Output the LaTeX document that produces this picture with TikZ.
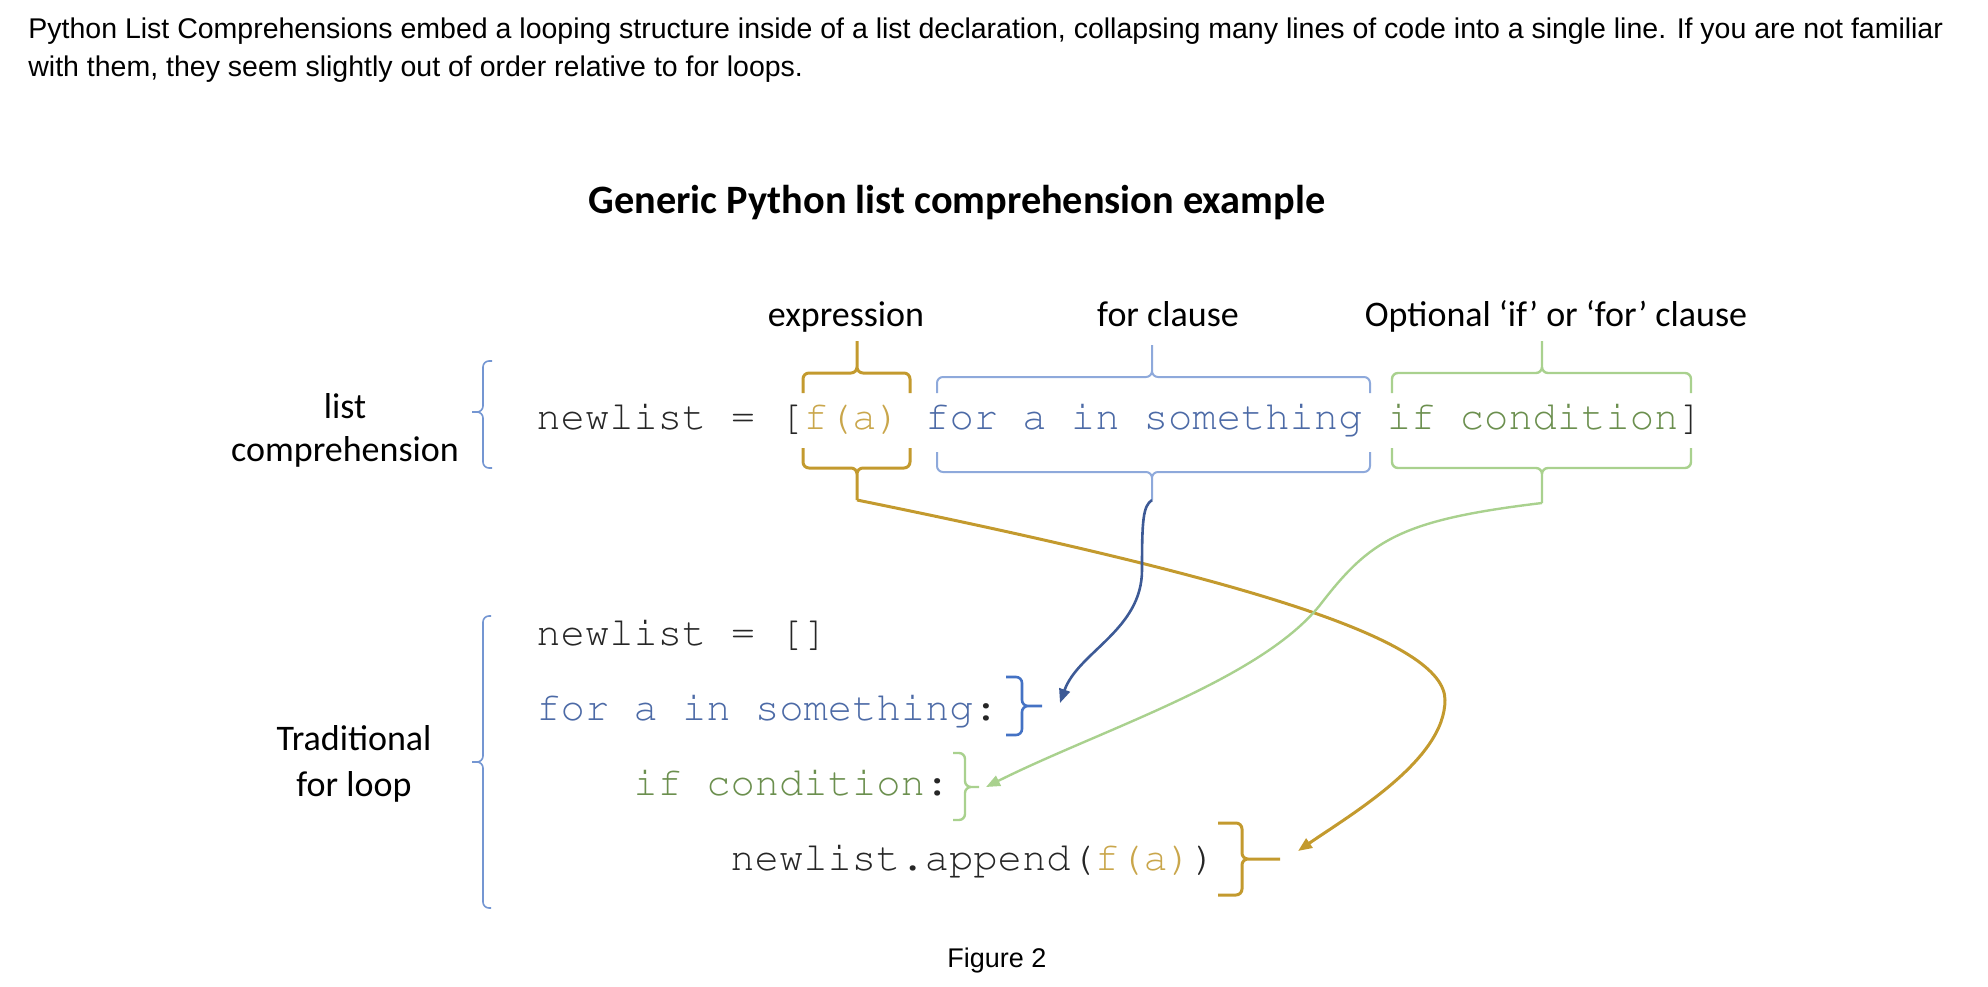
\documentclass[tikz,border=0pt]{standalone}
\usepackage{fontspec}
\usepackage{xcolor}
\usetikzlibrary{arrows.meta}
\newfontfamily\arial{Liberation Sans}
\newfontfamily\calibri{Carlito}
\newcommand{\codefont}{\fontencoding{OT1}\fontfamily{pcr}\fontseries{m}\fontshape{n}\fontsize{20.25}{24}\selectfont}
\definecolor{gold}{HTML}{C39A2E}
\definecolor{goldtext}{HTML}{C9A64B}
\definecolor{bluebrace}{HTML}{8EA9DB}
\definecolor{bluetext}{HTML}{4C6AA6}
\definecolor{blueconn}{HTML}{3D5A96}
\definecolor{bluemid}{HTML}{4472C4}
\definecolor{greenbrace}{HTML}{A9D18E}
\definecolor{greentext}{HTML}{6B8F4E}
\definecolor{leftbrace}{HTML}{7496D2}
\definecolor{codeblack}{HTML}{262626}

\begin{document}
\begin{tikzpicture}[x=0.5pt,y=-0.5pt,
  para/.style={font=\arial\fontsize{14.25}{17}\selectfont, inner sep=0pt, anchor=base west},
  lbl/.style={font=\calibri\fontsize{18}{22}\selectfont, inner sep=0pt, anchor=base},
  codeline/.style={font=\codefont, inner sep=0pt, anchor=base west, text=codeblack},
  brace/.style={line width=1pt, rounded corners=3pt},
  conn/.style={-{Triangle[length=7pt,width=5.5pt]}}]
  \useasboundingbox (0,0) rectangle (1988,986);

  \node[para] (intro1) at (28,38) {Python List Comprehensions embed a looping structure inside of a list declaration, collapsing many lines of code into a single line. If you are not familiar};
  \node[para] (intro2) at (28,76) {with them, they seem slightly out of order relative to for loops.};
  \node[font=\calibri\bfseries\fontsize{20.15}{24}\selectfont, inner sep=0pt, anchor=base] (title) at (957,213) {Generic Python list comprehension example};

  \node[lbl] (exprlbl) at (846,326) {expression};
  \node[lbl] (forlbl) at (1168,326) {for clause};
  \node[lbl] (optlbl) at (1556,326) {Optional ‘if’ or ‘for’ clause};
  \node[lbl] (lc1) at (345,418) {list};
  \node[lbl] (lc2) at (345,461) {comprehension};
  \node[lbl] (trad1) at (354,750) {Traditional};
  \node[lbl] (trad2) at (354,796) {for loop};

  % the code
  \node[codeline] (compline) at (536,429) {newlist = [\textcolor{goldtext}{f(a)} \textcolor{bluetext}{for a in something} \textcolor{greentext}{if condition}]};
  \node[codeline] (initline) at (536,645) {newlist = []};
  \node[codeline, text=bluetext] (forline) at (536,720) {for a in something\textcolor{codeblack}{:}};
  \node[codeline, text=greentext] (ifline) at (633,795) {if condition\textcolor{codeblack}{:}};
  \node[codeline] (appline) at (730,870) {newlist.append(\textcolor{goldtext}{f(a)})};
  \node[font=\arial\fontsize{13.5}{16}\selectfont, inner sep=0pt, anchor=base] (caption) at (997,967) {Figure 2};

  \coordinate (fatip) at (857,500);
  \coordinate (fortip) at (1152,500);
  \coordinate (iftip) at (1542,503);
  \coordinate (forin) at (1060,703);
  \coordinate (ifin) at (986,787);
  \coordinate (appin) at (1298,851);

  % braces over and under the comprehension
  \draw[brace, gold, line width=1.5pt] (803,393) |- (857,373) -- (857,341) (857,341) -- (857,373) -| (910,393);
  \draw[brace, bluebrace] (937,393) |- (1152,377) -- (1152,345) (1152,345) -- (1152,377) -| (1370,393);
  \draw[brace, greenbrace, line width=1.2pt] (1392,393) |- (1542,373) -- (1542,341) (1542,341) -- (1542,373) -| (1691,393);
  \draw[brace, gold, line width=1.5pt] (803,448) |- (857,468) -- (fatip) (fatip) -- (857,468) -| (910,448);
  \draw[brace, bluebrace] (937,452) |- (1152,472) -- (fortip) (fortip) -- (1152,472) -| (1370,452);
  \draw[brace, greenbrace, line width=1.2pt] (1392,448) |- (1542,468) -- (iftip) (iftip) -- (1542,468) -| (1691,448);

  % left braces
  \draw[brace, leftbrace, line width=0.8pt] (492,361) -| (483,412) -- (472,412) (472,412) -- (483,412) |- (492,468);
  \draw[brace, leftbrace, line width=0.8pt] (491,616) -| (483,762) -- (472,762) (472,762) -- (483,762) |- (491,908);

  % braces after the loop lines
  \draw[brace, bluemid, line width=1.3pt] (1006,677) -| (1022,706) -- (1042,706) (1042,706) -- (1022,706) |- (1006,735);
  \draw[brace, greenbrace, line width=1.2pt] (953,753) -| (965,787) -- (979,787) (979,787) -- (965,787) |- (953,820);
  \draw[brace, gold, line width=1.5pt] (1218,823) -| (1242,859) -- (1280,859) (1280,859) -- (1242,859) |- (1218,895);

  \draw[conn, gold, line width=1.5pt] (fatip) .. controls (1250,580) and (1445,640) .. (1445,700) .. controls (1445,760) and (1350,815) .. (appin);
  \draw[conn, blueconn, line width=1.3pt] (fortip) .. controls (1143,506) and (1142,520) .. (1142,570) .. controls (1142,630) and (1078,652) .. (forin);
  \draw[conn, greenbrace, line width=1.2pt] (iftip) .. controls (1400,520) and (1370,540) .. (1320,605) .. controls (1260,680) and (1100,730) .. (ifin);
\end{tikzpicture}
\end{document}
